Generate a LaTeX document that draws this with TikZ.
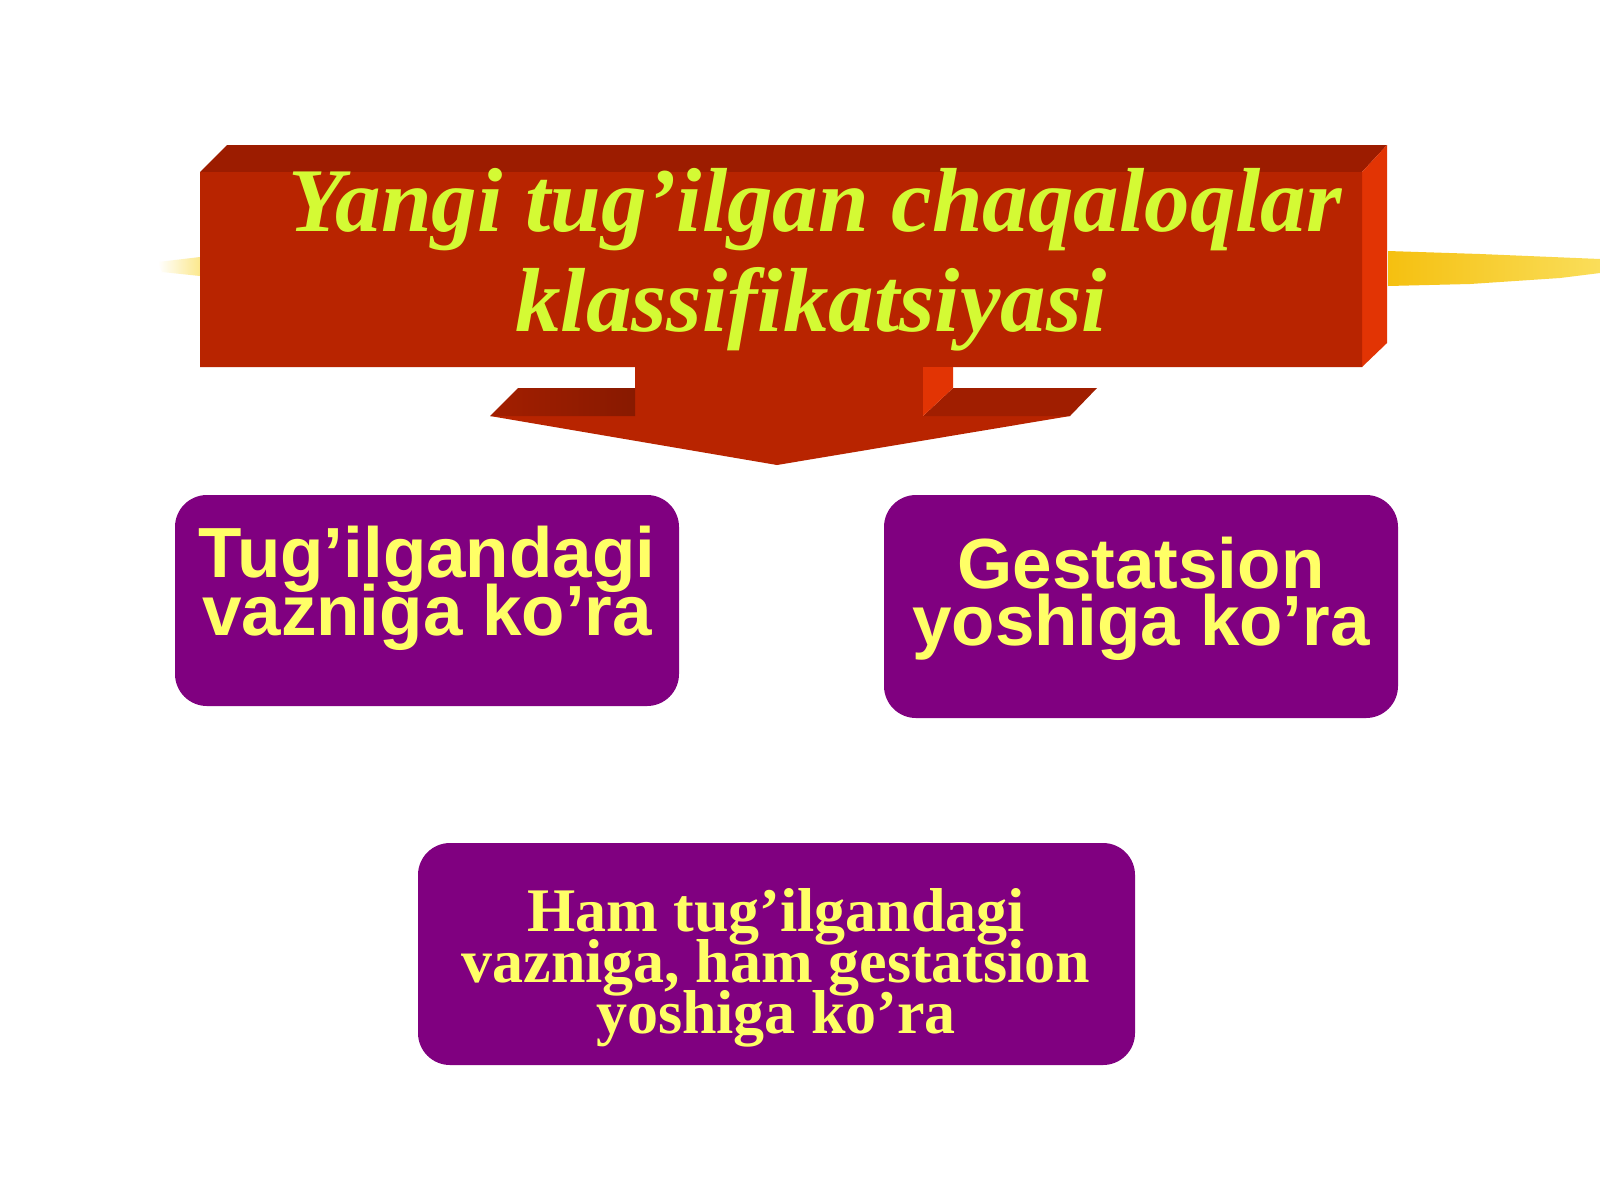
\documentclass[tikz,border=0pt]{standalone}
\usepackage{fontspec}
\setmainfont{Liberation Serif}
\setsansfont{Liberation Sans}
\definecolor{frontred}{RGB}{184,36,0}
\definecolor{topred}{RGB}{156,28,0}
\definecolor{sidered}{RGB}{226,52,4}
\definecolor{wingred}{RGB}{160,30,0}
\definecolor{boxpurple}{RGB}{128,0,128}
\definecolor{boxyellow}{RGB}{255,255,102}
\definecolor{titleyellow}{RGB}{212,250,52}
\definecolor{brushgold}{RGB}{245,192,16}
\definecolor{brushlight}{RGB}{250,222,90}
\tikzset{
  purplebox/.style={fill=boxpurple, draw=none, rounded corners=32pt},
  sanslabel/.style={text=boxyellow, font=\sffamily\bfseries\fontsize{71}{58}\selectfont, align=center, inner sep=0pt, anchor=base},
  seriflabel/.style={text=boxyellow, font=\rmfamily\bfseries\fontsize{62}{51}\selectfont, align=center, inner sep=0pt, anchor=base},
  titlelabel/.style={text=titleyellow, font=\rmfamily\bfseries\itshape\fontsize{91}{100}\selectfont, align=center, inner sep=0pt, anchor=base}
}
\begin{document}
\begin{tikzpicture}[x=1pt,y=-1pt]
\useasboundingbox (0,0) rectangle (1600,1200);
\fill[white] (0,0) rectangle (1600,1200);
% brush strokes
\shade[left color=white, right color=brushlight!70] (158,262) -- (200,257) -- (200,276) -- (162,272) -- cycle;
\shade[left color=brushgold, right color=brushlight] (1388,251) -- (1480,254) -- (1600,259) -- (1600,273) -- (1560,278) -- (1470,284) -- (1388,286) -- cycle;
% callout: top face
\fill[topred] (200,172) -- (227,145) -- (1387,145) -- (1362,172) -- cycle;
% side face
\fill[sidered] (1362,172) -- (1387,145) -- (1387,343) -- (1362,367) -- cycle;
% front face with stem and arrowhead
\fill[frontred] (200,172) -- (1362,172) -- (1362,367) -- (923,367) -- (923,416) -- (1070,416) -- (777,465) -- (490,416) -- (635,416) -- (635,367) -- (200,367) -- cycle;
% wings top faces
\shade[left color=wingred!90!frontred, right color=wingred!85!black] (490,416) -- (518,388) -- (635,388) -- (635,416) -- cycle;
\fill[wingred] (923,416) -- (953,388) -- (1097,388) -- (1070,416) -- cycle;
% stem side face
\fill[sidered] (923,367) -- (953,367) -- (953,388) -- (923,416) -- cycle;
% title
\node[titlelabel] (t1) at (815,231) {Yangi tug’ilgan chaqaloqlar};
\node[titlelabel] (t2) at (811,331) {klassifikatsiyasi};
% purple boxes
\path[purplebox] (175,495) rectangle (679,706);
\node[sanslabel] (b1a) at (427,577) {Tug’ilgandagi};
\node[sanslabel] (b1b) at (427,635) {vazniga ko’ra};
\path[purplebox] (884,495) rectangle (1398,718);
\node[sanslabel] (b2a) at (1141,588) {Gestatsion};
\node[sanslabel] (b2b) at (1141,645) {yoshiga ko’ra};
\path[purplebox] (418,843) rectangle (1135,1065);
\node[seriflabel] (b3a) at (776,931) {Ham tug’ilgandagi};
\node[seriflabel] (b3b) at (776,982) {vazniga, ham gestatsion};
\node[seriflabel] (b3c) at (776,1033) {yoshiga ko’ra};
\end{tikzpicture}
\end{document}
